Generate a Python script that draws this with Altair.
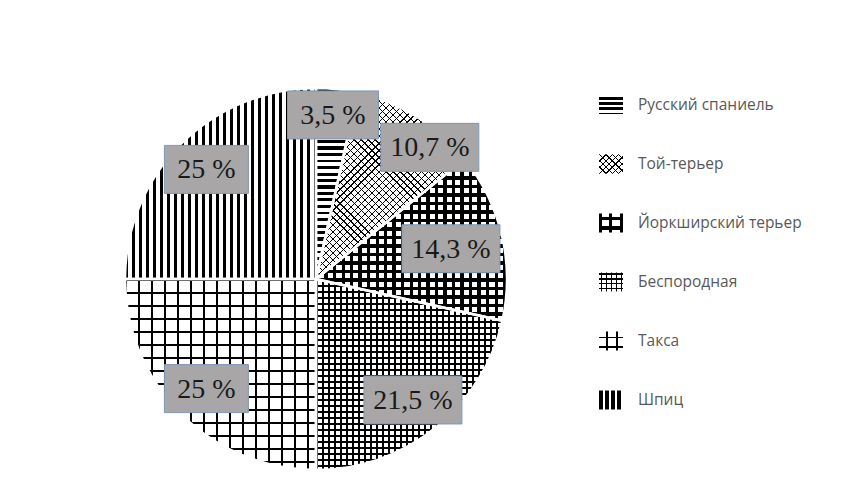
import math
import altair as alt
import pandas as pd

# ---------------- data ----------------
categories = ["Русский спаниель", "Той-терьер", "Йоркширский терьер",
              "Беспородная", "Такса", "Шпиц"]
values = [3.5, 10.7, 14.3, 21.5, 25.0, 25.0]
labels = ["3,5 %", "10,7 %", "14,3 %", "21,5 %", "25 %", "25 %"]

df = pd.DataFrame({"cat": categories, "value": values, "label": labels,
                   "idx": list(range(len(categories)))})

# ---------------- layout / style ----------------
W, H = 844, 474
CX, CY, R = 308, 271, 191        # pie centre and radius (plot px)
LR = 155                          # label radius
LABEL_NUDGE = {"Русский спаниель": (0, -10), "Той-терьер": (32, 0),
               "Йоркширский терьер": (-16, 5)}
SW_W, SW_H = 24, 19               # legend swatch size
LEG_X = 591
LEG_Y0, LEG_Y1 = 97, 392

BLACK = "#000000"
CLEAR = "rgba(255,255,255,0)"


def stripe_stops(L, p, t, phase=0.0):
    """hard-edged stripe stops along a length of L px"""
    stops = [(0.0, CLEAR)]
    pos = (phase % p) - p
    while pos < L:
        a, b = max(pos, 0.0), min(pos + t, L)
        if b > a:
            stops += [(a / L, CLEAR), (a / L, BLACK), (b / L, BLACK), (b / L, CLEAR)]
        pos += p
    stops.append((1.0, CLEAR))
    return [alt.GradientStop(offset=round(o, 5), color=c) for o, c in stops]


def gradient(kind, w, h, p, t, phase=0.0):
    if kind == "h":
        L, c = h, dict(x1=0, y1=0, x2=0, y2=1)
    elif kind == "v":
        L, c = w, dict(x1=0, y1=0, x2=1, y2=0)
    else:
        L = (w + h) / math.sqrt(2)
        a = w * (w + h) / (w * w + h * h)
        b = h * (w + h) / (w * w + h * h)
        if kind == "d1":
            c = dict(x1=0, y1=0, x2=round(a, 5), y2=round(b, 5))
        else:
            c = dict(x1=0, y1=1, x2=round(a, 5), y2=round(1 - b, 5))
    return alt.LinearGradient(gradient="linear", stops=stripe_stops(L, p, t, phase), **c)


pie_patterns = {
    categories[0]: [("h", 6.5, 3.0)],
    categories[1]: [("d1", 5.0, 0.9), ("d2", 5.0, 0.9)],
    categories[2]: [("h", 8.5, 3.4), ("v", 8.5, 3.4)],
    categories[3]: [("h", 6.0, 1.8), ("v", 6.0, 1.8)],
    categories[4]: [("h", 13.0, 2.0), ("v", 13.0, 2.0)],
    categories[5]: [("v", 7.0, 3.3)],
}
legend_patterns = {
    categories[0]: [("h", 5.2, 3.0, 1.5)],
    categories[1]: [("d1", 4.5, 0.9, 0), ("d2", 4.5, 0.9, 0)],
    categories[2]: [("h", 9.5, 3.0, 3.5), ("v", 10.0, 3.0, 0.5)],
    categories[3]: [("h", 4.8, 1.3, 1), ("v", 5.0, 1.3, 2)],
    categories[4]: [("h", 10, 1.5, 5), ("v", 10, 1.6, 7)],
    categories[5]: [("v", 6.0, 3.4, 0.5)],
}


def arc_bbox(a0, a1):
    xs, ys = [0.0], [0.0]
    n = 720
    for i in range(n + 1):
        a = a0 + (a1 - a0) * i / n
        xs.append(R * math.sin(a))
        ys.append(-R * math.cos(a))
    return max(xs) - min(xs), max(ys) - min(ys)


theta_scale = alt.Scale(domain=[0, 100], range=[0, 2 * math.pi])

base = alt.Chart(df).transform_window(
    cum="sum(value)", sort=[alt.SortField("idx")]
).transform_calculate(start="datum.cum - datum.value")

layers = []
cum = 0.0
for cat, v in zip(categories, values):
    a0 = cum / 100 * 2 * math.pi
    a1 = (cum + v) / 100 * 2 * math.pi
    cum += v
    bw, bh = arc_bbox(a0, a1)
    for kind, p, t in pie_patterns[cat]:
        layers.append(
            base.transform_filter(alt.datum.cat == cat)
            .mark_arc(radius=R, fill=gradient(kind, bw, bh, p, t))
            .encode(theta=alt.Theta("start:Q", scale=theta_scale),
                    theta2="cum:Q", x=alt.value(CX), y=alt.value(CY))
        )

# white separators between slices
layers.append(
    base.mark_arc(radius=R, fill="white", fillOpacity=0, stroke="white", strokeWidth=2.5)
    .encode(theta=alt.Theta("start:Q", scale=theta_scale), theta2="cum:Q",
            x=alt.value(CX), y=alt.value(CY))
)

# data labels
dx_expr = " : ".join(f"datum.cat === '{k}' ? {d[0]}" for k, d in LABEL_NUDGE.items()) + " : 0"
dy_expr = " : ".join(f"datum.cat === '{k}' ? {d[1]}" for k, d in LABEL_NUDGE.items()) + " : 0"
lab = base.transform_calculate(
    mid="(datum.start + datum.value / 2) / 100 * 2 * PI",
    ndx=dx_expr, ndy=dy_expr,
).transform_calculate(
    lx=f"{CX} + {LR} * sin(datum.mid) + datum.ndx",
    ly=f"{CY} - {LR} * cos(datum.mid) + datum.ndy",
    bw="56 + 7 * length(datum.label)",
).transform_calculate(
    bx="datum.lx - datum.bw / 2", bx2="datum.lx + datum.bw / 2",
    by="datum.ly - 24", by2="datum.ly + 24",
)
layers.append(
    lab.mark_rect(fill="#a8a6a6", stroke="#7f98b8", strokeWidth=1).encode(
        x=alt.X("bx:Q", scale=None), x2="bx2:Q",
        y=alt.Y("by:Q", scale=None), y2="by2:Q")
)
layers.append(
    lab.mark_text(font="Liberation Serif", fontSize=28, color="#1a1a1a",
                  align="center", baseline="middle", dy=1).encode(
        x=alt.X("lx:Q", scale=None), y=alt.Y("ly:Q", scale=None), text="label:N")
)

# legend
leg_y = alt.Scale(type="point", domain=categories, range=[LEG_Y0, LEG_Y1], padding=0)
for cat in categories:
    for kind, p, t, ph in legend_patterns[cat]:
        layers.append(
            alt.Chart(df).transform_filter(alt.datum.cat == cat)
            .mark_rect(height=SW_H, fill=gradient(kind, SW_W, SW_H, p, t, ph))
            .encode(x=alt.value(LEG_X), x2=alt.value(LEG_X + SW_W),
                    y=alt.Y("cat:N", scale=leg_y, axis=None))
        )
layers.append(
    alt.Chart(df).mark_text(align="left", baseline="middle", font="Open Sans",
                            fontSize=15.5, color="#595959")
    .encode(x=alt.value(LEG_X + 39), y=alt.Y("cat:N", scale=leg_y, axis=None),
            text="cat:N")
)

chart = alt.layer(*layers).properties(
    width=W, height=H, padding=0,
    autosize=alt.AutoSizeParams(type="none"),
).configure_view(strokeWidth=0)

chart.save("out.html", embed_options={"renderer": "svg", "actions": False})
